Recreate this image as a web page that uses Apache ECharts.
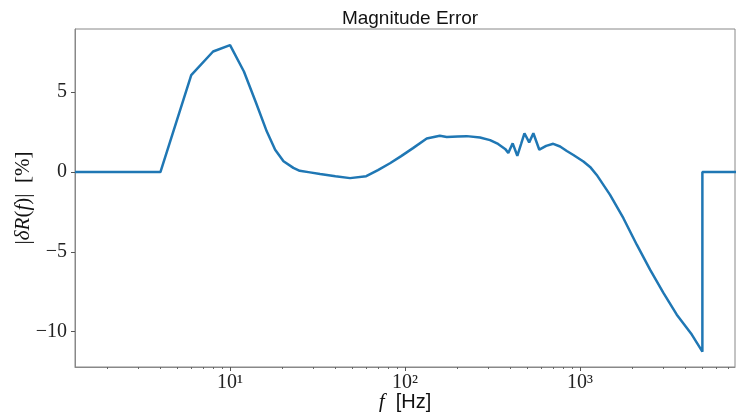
<!DOCTYPE html>
<html>
<head>
<meta charset="utf-8">
<script src="https://cdn.jsdelivr.net/npm/echarts@6/dist/echarts.min.js"></script>
<style>
  html, body { margin: 0; padding: 0; background: #fff; }
  #chart { width: 736px; height: 412px; }
</style>
</head>
<body>
<div id="chart"></div>
<script>
// frequency (Hz) and magnitude error (%)
var freq = [1.3, 4, 6, 8, 10, 12, 14, 16.2, 18.1, 20.2, 23, 25, 28.6, 32.7, 40, 48.5,
    60, 70, 82, 95, 111, 133, 158, 173, 200, 225, 268, 306, 340, 373, 389, 412,
    438, 460, 481, 512, 541, 585, 640, 703, 769, 840, 916, 1045, 1150, 1245,
    1484, 1769, 2109, 2512, 2994, 3570, 4350, 5000, 5000, 8000];
var magErr = [0, 0, 6.07, 7.55, 7.95, 6.3, 4.4, 2.55, 1.4, 0.68, 0.26, 0.08, -0.02, -0.12, -0.26, -0.38,
    -0.26, 0.12, 0.55, 1.0, 1.5, 2.1, 2.27, 2.2, 2.23, 2.25, 2.16, 2.0, 1.76, 1.45, 1.2, 1.8,
    1.02, 1.75, 2.43, 1.86, 2.43, 1.4, 1.64, 1.77, 1.6, 1.32, 1.07, 0.66, 0.28, -0.18,
    -1.43, -2.89, -4.55, -6.11, -7.57, -8.93, -10.18, -11.25, 0, 0];

var majorTicks = [10, 100, 1000];
var majorLabels = ['10\u00b9', '10\u00b2', '10\u00b3'];
var minorTicks = [2, 3, 4, 5, 6, 7, 8, 9, 20, 30, 40, 50, 60, 70, 80, 90,
    200, 300, 400, 500, 600, 700, 800, 900, 2000, 3000, 4000, 5000, 6000, 7000];
var yTicks = [-10, -5, 0, 5];

var xMin = 1.3, xMax = 7680;
var yMin = -12.21, yMax = 8.96;

var pts = freq.map(function (f, i) { return [f, magErr[i]]; });

var serif = '"Liberation Serif", "DejaVu Serif", serif';
var chart = echarts.init(document.getElementById('chart'));

var option = {
    animation: false,
    title: {
        text: 'Magnitude Error',
        left: 405,
        textAlign: 'center',
        top: 4,
        textStyle: { fontFamily: '"Liberation Sans", sans-serif', fontSize: 19, fontWeight: 'normal', color: '#111' }
    },
    grid: {
        left: 75, right: 1, top: 29, bottom: 45,
        outerBoundsMode: 'none',
        containLabel: false,
        show: true, borderColor: '#888', borderWidth: 1
    },
    xAxis: [
        {
            type: 'log', logBase: 10, min: xMin, max: xMax,
            position: 'bottom',
            axisLine: { show: true, onZero: false, lineStyle: { color: '#888' } },
            splitLine: { show: false },
            axisTick: { show: true, customValues: majorTicks, length: 4, lineStyle: { color: '#555' } },
            axisLabel: {
                customValues: majorTicks,
                margin: 6,
                fontFamily: serif, fontSize: 20, color: '#222',
                formatter: function (v) {
                    return majorLabels[majorTicks.indexOf(Math.round(v))] || '';
                }
            },
            name: '{i|f}  [Hz]',
            nameLocation: 'middle',
            nameGap: 25,
            nameMoveOverlap: false,
            nameTextStyle: {
                fontFamily: '"Liberation Sans", sans-serif', fontSize: 20, color: '#111',
                rich: { i: { fontFamily: serif, fontStyle: 'italic', fontSize: 21, color: '#111' } }
            }
        },
        {
            type: 'log', logBase: 10, min: xMin, max: xMax,
            position: 'bottom',
            axisLine: { show: false, onZero: false },
            splitLine: { show: false },
            axisTick: { show: true, customValues: minorTicks, length: 2, lineStyle: { color: '#666' } },
            axisLabel: { show: false }
        }
    ],
    yAxis: {
        type: 'value', min: yMin, max: yMax,
        axisLine: { show: true, lineStyle: { color: '#888' } },
        splitLine: { show: false },
        axisTick: { show: true, customValues: yTicks, length: 4, lineStyle: { color: '#555' } },
        axisLabel: {
            customValues: yTicks,
            margin: 8,
            fontFamily: serif, fontSize: 20, color: '#222',
            formatter: function (v) { return v < 0 ? '\u2212' + Math.abs(v) : String(v); }
        },
        name: '|{i|\u03b4R}({i|f})|  [%]',
        nameLocation: 'middle',
        nameRotate: 90,
        nameGap: 41,
        nameMoveOverlap: false,
        nameTextStyle: {
            fontFamily: serif, fontSize: 21, color: '#111',
            rich: { i: { fontFamily: serif, fontStyle: 'italic', fontSize: 21, color: '#111' } }
        }
    },
    series: [{
        type: 'line',
        xAxisIndex: 0,
        data: pts,
        showSymbol: false,
        clip: true,
        lineStyle: { color: '#1f77b4', width: 2.5 },
        itemStyle: { color: '#1f77b4' }
    }]
};
chart.setOption(option);
</script>
</body>
</html>
